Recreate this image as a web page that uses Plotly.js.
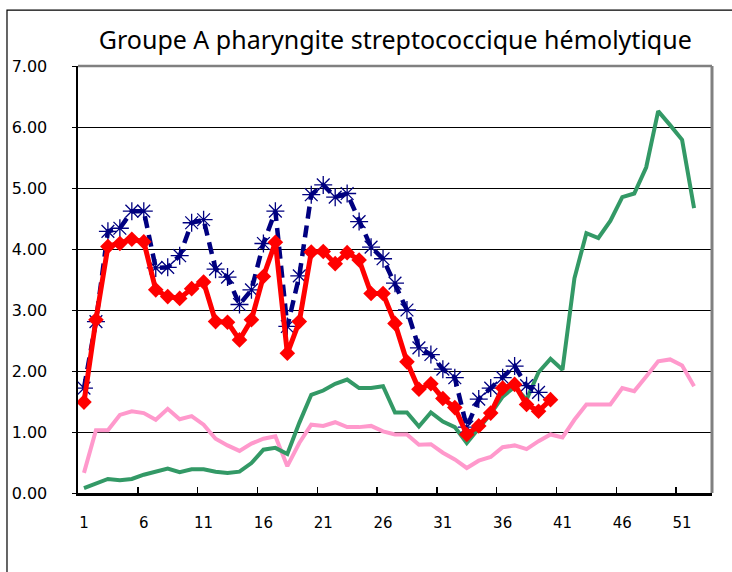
<!DOCTYPE html>
<html><head><meta charset="utf-8">
<script src="https://cdn.plot.ly/plotly-3.0.1.min.js"></script>
<style>html,body{margin:0;padding:0;background:#fff}#c{width:732px;height:572px}</style>
</head><body><div id="c"></div>
<script>
const weeks = Array.from({length: 52}, (_, i) => i + 1);
const xTickLabels = ['1','6','11','16','21','26','31','36','41','46','51'];

const navyVals = [1.72,2.81,4.29,4.34,4.62,4.62,3.69,3.70,3.89,4.43,4.48,3.67,3.54,3.09,3.33,4.09,4.62,2.73,3.56,4.89,5.05,4.85,4.91,4.45,4.03,3.84,3.44,3.00,2.38,2.27,2.03,1.89,1.08,1.54,1.72,1.89,2.08,1.76,1.65];
const redVals = [1.49,2.84,4.04,4.09,4.16,4.12,3.33,3.22,3.19,3.35,3.46,2.81,2.80,2.51,2.84,3.55,4.11,2.29,2.81,3.95,3.96,3.76,3.94,3.82,3.27,3.27,2.78,2.15,1.70,1.79,1.55,1.40,0.96,1.10,1.31,1.72,1.78,1.45,1.34,1.53];
const greenVals = [0.08,0.15,0.23,0.21,0.23,0.30,0.35,0.40,0.34,0.39,0.39,0.35,0.33,0.35,0.49,0.71,0.74,0.64,1.15,1.61,1.68,1.79,1.86,1.72,1.72,1.75,1.32,1.32,1.09,1.32,1.17,1.08,0.82,1.05,1.30,1.58,1.74,1.53,1.98,2.20,2.02,3.52,4.26,4.18,4.46,4.85,4.91,5.34,6.26,6.03,5.79,4.67];
const pinkVals = [0.33,1.03,1.03,1.28,1.34,1.31,1.20,1.38,1.21,1.26,1.12,0.89,0.78,0.69,0.81,0.89,0.93,0.44,0.82,1.12,1.10,1.16,1.08,1.08,1.10,1.01,0.96,0.96,0.79,0.80,0.66,0.55,0.41,0.53,0.59,0.75,0.78,0.72,0.85,0.96,0.91,1.20,1.45,1.45,1.45,1.72,1.67,1.91,2.16,2.19,2.09,1.75];

const labelTickVals = xTickLabels.map(Number);
const boundaryTicks = labelTickVals.slice(1).map(v => v - 0.5);

const traces = [
  {x: weeks.slice(0, pinkVals.length), y: pinkVals, mode: 'lines', line: {color: '#FF99CC', width: 4}, hoverinfo: 'skip'},
  {x: weeks.slice(0, greenVals.length), y: greenVals, mode: 'lines', line: {color: '#339966', width: 4}, hoverinfo: 'skip'},
  {x: weeks.slice(0, navyVals.length), y: navyVals, mode: 'lines+markers',
   line: {color: '#000080', width: 4.5, dash: '12px,7px'},
   marker: {symbol: 'asterisk-open', size: 15, line: {color: '#000080', width: 1.3}, color: '#000080'}, hoverinfo: 'skip'},
  {x: weeks.slice(0, redVals.length), y: redVals, mode: 'lines+markers',
   line: {color: '#FF0000', width: 5},
   marker: {symbol: 'diamond', size: 12, color: '#FF0000'}, hoverinfo: 'skip'}
];

const layout = {
  width: 732, height: 572,
  margin: {l: 78, r: 20, t: 66, b: 79},
  paper_bgcolor: '#fff', plot_bgcolor: '#fff',
  showlegend: false,
  title: {text: 'Groupe A pharyngite streptococcique hémolytique',
          font: {family: 'Noto Sans, Open Sans, sans-serif', size: 25, color: '#000'},
          x: 0.54, xanchor: 'center', y: 0.93, yanchor: 'middle', xref: 'container', yref: 'container'},
  xaxis: {range: [0.5, 53.5], tickvals: labelTickVals, ticktext: xTickLabels, ticks: '',
          tickfont: {family: 'DejaVu Sans, sans-serif', size: 15, color: '#000'},
          showgrid: false, zeroline: false, showline: true, linecolor: '#000', linewidth: 2.5,
          ticklabelstandoff: 14,
          minor: {tickvals: boundaryTicks, ticks: 'inside', ticklen: 6, tickcolor: '#000', tickwidth: 1.5, showgrid: false}},
  yaxis: {range: [0, 7], tickvals: [0,1,2,3,4,5,6,7], tickformat: '.2f',
          tickfont: {family: 'DejaVu Sans, sans-serif', size: 16, color: '#000'},
          showgrid: true, gridcolor: '#000', gridwidth: 1, zeroline: false,
          showline: true, linecolor: '#000', linewidth: 2.5,
          ticks: 'outside', ticklen: 4, tickcolor: '#000', ticklabelstandoff: 21},
  shapes: [
    {type: 'line', xref: 'paper', yref: 'paper', x0: 0, x1: 1, y0: 1, y1: 1, line: {color: '#808080', width: 2.5}},
    {type: 'line', xref: 'paper', yref: 'paper', x0: 1, x1: 1, y0: 0, y1: 1, line: {color: '#808080', width: 3}},
    {type: 'path', xref: 'paper', yref: 'paper', path: 'M -0.112,-0.2 L -0.112,1.131 L 1.05,1.131', line: {color: '#000', width: 1.2}}
  ]
};

Plotly.newPlot('c', traces, layout, {displayModeBar: false, staticPlot: true});
</script>
</body></html>
